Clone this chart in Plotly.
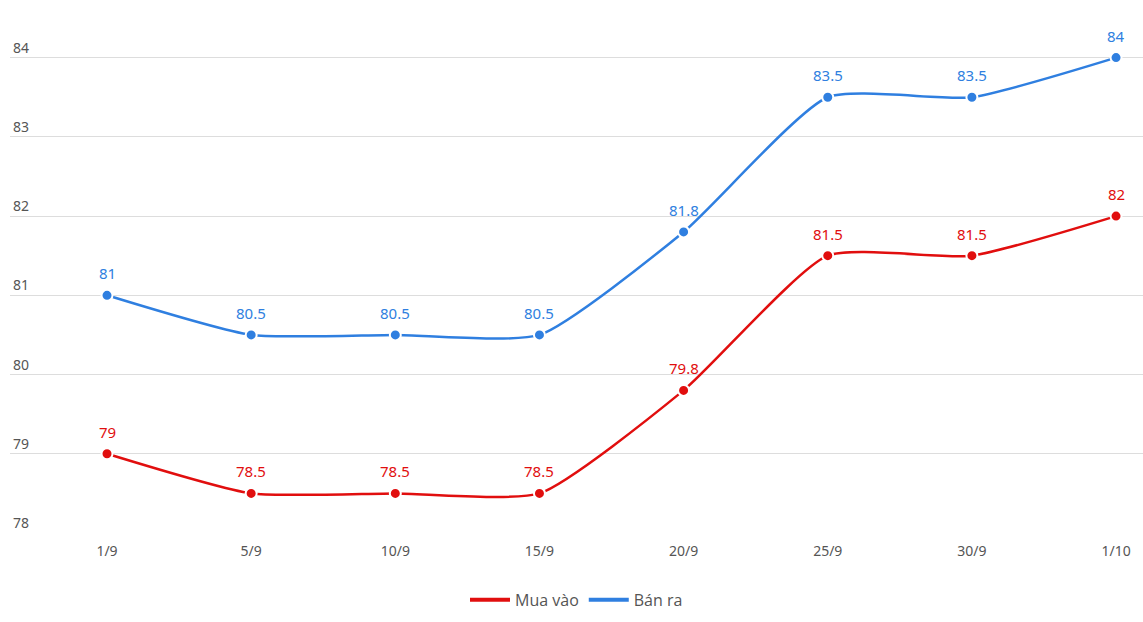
import plotly.graph_objects as go

dates = ["1/9", "5/9", "10/9", "15/9", "20/9", "25/9", "30/9", "1/10"]
mua_vao = [79, 78.5, 78.5, 78.5, 79.8, 81.5, 81.5, 82]
ban_ra = [81, 80.5, 80.5, 80.5, 81.8, 83.5, 83.5, 84]
y_ticks = [78, 79, 80, 81, 82, 83, 84]

RED = "#e10e0e"
BLUE = "#2f7fe0"

idx = list(range(len(dates)))
fig = go.Figure()
annotations = []

for name, vals, col in [("Mua vào", mua_vao, RED), ("Bán ra", ban_ra, BLUE)]:
    fig.add_trace(go.Scatter(
        x=idx, y=vals, mode="lines+markers", name=name,
        line=dict(color=col, width=2.5, shape="spline", smoothing=0.55),
        marker=dict(size=11, color=col, line=dict(color="white", width=2)),
        showlegend=False, cliponaxis=False,
    ))
    fig.add_trace(go.Scatter(
        x=[None], y=[None], mode="lines", name=name,
        line=dict(color=col, width=4), showlegend=True,
    ))
    for i, v in zip(idx, vals):
        annotations.append(dict(
            x=i, y=v, xref="x", yref="y", text=f"{v:g}", showarrow=False,
            yshift=22, font=dict(color=col, size=15, family="Noto Sans"),
        ))

fig.update_layout(
    width=1143, height=622,
    margin=dict(l=10, r=0, t=18, b=89),
    plot_bgcolor="white", paper_bgcolor="white",
    font=dict(family="Noto Sans", color="#555555", size=14),
    annotations=annotations,
    xaxis=dict(
        tickmode="array", tickvals=idx, ticktext=dates,
        range=[-0.673, 7.187], showgrid=False, zeroline=False,
        showline=False, ticks="", ticklabelstandoff=8,
        tickfont=dict(size=14, color="#555555"),
    ),
    yaxis=dict(
        range=[78, 84.5], tickvals=y_ticks, showgrid=True,
        gridcolor="#dddddd", gridwidth=1, zeroline=False, showline=False,
        ticklabelposition="inside top", tickfont=dict(size=14, color="#555555"),
    ),
    legend=dict(
        orientation="h", x=0.5, xanchor="center", y=-0.13, yanchor="middle",
        font=dict(size=16, color="#555555", family="Open Sans"),
        itemwidth=40,
    ),
)

fig.write_html("out.html")
